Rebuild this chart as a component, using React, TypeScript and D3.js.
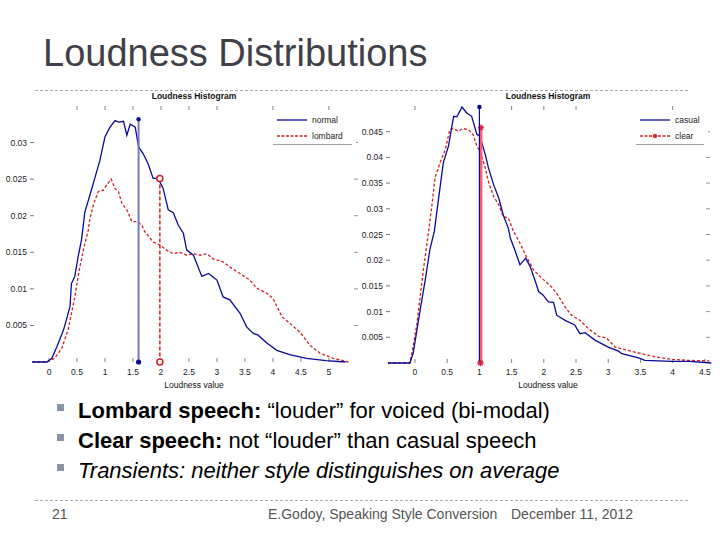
import React from "react";
import * as d3 from "d3";

// ---- Data ----
const normalX = [-0.3, -0.04, 0.05, 0.14, 0.26, 0.375, 0.4, 0.46, 0.52, 0.58, 0.64, 0.73, 0.85, 0.91, 1.0, 1.09, 1.18, 1.25, 1.33, 1.39, 1.45, 1.54, 1.6, 1.68, 1.77, 1.86, 1.95, 2.04, 2.13, 2.22, 2.31, 2.4, 2.46, 2.58, 2.73, 2.85, 3.0, 3.11, 3.23, 3.41, 3.53, 3.65, 3.73, 3.89, 4.07, 4.3, 4.6, 4.95, 5.3];
const normalY = [0, 0, 0.0005, 0.0021, 0.0044, 0.0076, 0.0107, 0.0117, 0.0144, 0.0167, 0.0205, 0.0228, 0.026, 0.0276, 0.0308, 0.0321, 0.033, 0.0328, 0.0329, 0.031, 0.0325, 0.0321, 0.0294, 0.0285, 0.0271, 0.0251, 0.0251, 0.0237, 0.0208, 0.0204, 0.0187, 0.0176, 0.0153, 0.0146, 0.0117, 0.0121, 0.0112, 0.0089, 0.0085, 0.0067, 0.0048, 0.0039, 0.0037, 0.0026, 0.0016, 0.001, 0.0005, 0.0002, 0];

const lombardX = [-0.3, -0.04, 0.1, 0.23, 0.34, 0.4, 0.46, 0.55, 0.64, 0.7, 0.73, 0.8, 0.88, 0.97, 1.03, 1.11, 1.18, 1.24, 1.3, 1.39, 1.48, 1.57, 1.66, 1.71, 1.74, 1.86, 1.98, 2.1, 2.22, 2.33, 2.46, 2.58, 2.7, 2.82, 2.93, 3.11, 3.23, 3.41, 3.59, 3.71, 3.89, 4.0, 4.16, 4.3, 4.48, 4.66, 4.84, 5.08, 5.35];
const lombardY = [0, 0, 0.0005, 0.0019, 0.0044, 0.0066, 0.0089, 0.013, 0.0162, 0.018, 0.0196, 0.0217, 0.0233, 0.0235, 0.0242, 0.025, 0.0237, 0.0233, 0.0217, 0.0208, 0.0192, 0.0192, 0.0187, 0.0178, 0.0176, 0.0164, 0.016, 0.0153, 0.0148, 0.015, 0.0146, 0.0148, 0.0146, 0.0148, 0.0141, 0.0137, 0.013, 0.0121, 0.0112, 0.0101, 0.0094, 0.0087, 0.0062, 0.0053, 0.0041, 0.0023, 0.0012, 0.0005, 0];

const casualX = [-0.42, -0.08, -0.03, 0.03, 0.08, 0.16, 0.23, 0.3, 0.36, 0.44, 0.52, 0.6, 0.65, 0.73, 0.8, 0.88, 0.96, 1.01, 1.09, 1.14, 1.22, 1.3, 1.37, 1.45, 1.48, 1.55, 1.63, 1.72, 1.79, 1.86, 1.92, 1.99, 2.07, 2.15, 2.2, 2.33, 2.48, 2.56, 2.64, 2.8, 3.0, 3.16, 3.21, 3.47, 3.57, 4.0, 4.26, 4.6];
const casualY = [0, 0, 0.0018, 0.0064, 0.0103, 0.0162, 0.022, 0.0256, 0.0314, 0.039, 0.0422, 0.048, 0.0479, 0.0498, 0.0487, 0.048, 0.0445, 0.0441, 0.0406, 0.038, 0.0347, 0.0321, 0.0288, 0.0262, 0.0243, 0.022, 0.0191, 0.0204, 0.0187, 0.0162, 0.0139, 0.0132, 0.0119, 0.0118, 0.0093, 0.0083, 0.0074, 0.0057, 0.0059, 0.0044, 0.0031, 0.0023, 0.0018, 0.001, 0.0005, 0.0003, 0.0003, 0];

const clearX = [-0.42, -0.08, -0.03, 0.03, 0.08, 0.13, 0.18, 0.23, 0.27, 0.31, 0.39, 0.47, 0.54, 0.6, 0.67, 0.75, 0.83, 0.9, 0.96, 1.01, 1.09, 1.14, 1.22, 1.3, 1.37, 1.45, 1.52, 1.63, 1.73, 1.84, 1.97, 2.12, 2.22, 2.33, 2.43, 2.56, 2.69, 2.85, 2.97, 3.11, 3.26, 3.52, 3.73, 4.0, 4.26, 4.57];
const clearY = [0, 0, 0.0031, 0.0077, 0.0129, 0.0181, 0.0227, 0.0275, 0.0314, 0.036, 0.039, 0.0415, 0.0454, 0.0456, 0.0451, 0.0456, 0.0454, 0.0445, 0.0422, 0.0412, 0.038, 0.0353, 0.0324, 0.0308, 0.0285, 0.0282, 0.0259, 0.0233, 0.0207, 0.0181, 0.0165, 0.0148, 0.0132, 0.0109, 0.0093, 0.0083, 0.0067, 0.0052, 0.0049, 0.0031, 0.0026, 0.0018, 0.0012, 0.0007, 0.0005, 0.0004];

// means (vertical markers): [x, top value]
const leftMeans = [
  { x: 1.6, top: 0.0332 },
  { x: 1.98, top: 0.0251 },
];
const rightMeans = [
  { x: 1.0, top: 0.0498 },
  { x: 1.0, top: 0.0458 },
];

const leftXTicks = [0, 0.5, 1, 1.5, 2, 2.5, 3, 3.5, 4, 4.5, 5];
const leftYTicks = [0.005, 0.01, 0.015, 0.02, 0.025, 0.03];
const rightXTicks = [0, 0.5, 1, 1.5, 2, 2.5, 3, 3.5, 4, 4.5];
const rightYTicks = [0.005, 0.01, 0.015, 0.02, 0.025, 0.03, 0.035, 0.04, 0.045];
const leftTopTicks = [0.5, 1, 1.5, 2, 2.5, 3, 4, 5];
const rightTopTicks = [0, 1, 1.5, 2, 2.5, 4];

const leftLegend = ["normal", "lombard"];
const rightLegend = ["casual", "clear"];

const slideTitle = "Loudness Distributions";
const plotTitle = "Loudness Histogram";
const xLabel = "Loudness value";

const BLUE = "#0a0a9a";
const RED = "#d42020";
const FONT = "'Liberation Sans', Arial, sans-serif";

function zip(xs: number[], ys: number[]): [number, number][] {
  return xs.map((x, i) => [x, ys[i]]);
}

function Star({ cx, cy, r, color }: { cx: number; cy: number; r: number; color: string }) {
  const lines = [0, 45, 90, 135].map((a) => {
    const rad = (a * Math.PI) / 180;
    return (
      <line key={a} x1={cx - r * Math.cos(rad)} y1={cy - r * Math.sin(rad)} x2={cx + r * Math.cos(rad)} y2={cy + r * Math.sin(rad)} stroke={color} strokeWidth={1.4} />
    );
  });
  return <g>{lines}</g>;
}

type PlotProps = {
  xDomain: [number, number];
  xRange: [number, number];
  yDomain: [number, number];
  yRange: [number, number];
  xTicks: number[];
  yTicks: number[];
  topTicks: number[];
  blue: [number, number][];
  red: [number, number][];
  legend: string[];
  legendX: number;
  variant: "left" | "right";
  means: { x: number; top: number }[];
};

function Plot(p: PlotProps) {
  const x = d3.scaleLinear().domain(p.xDomain).range(p.xRange);
  const y = d3.scaleLinear().domain(p.yDomain).range(p.yRange);
  const line = d3.line<[number, number]>().x((d) => x(d[0])).y((d) => y(d[1]));
  const fmt = (v: number) => d3.format("")(+v.toFixed(4));
  const [x0, x1] = p.xRange;
  const [yb, yt] = p.yRange;
  const cx = (x0 + x1) / 2;
  const tickLen = 4;
  const lx = p.legendX;
  return (
    <g fontFamily={FONT}>
      <text x={cx} y={99} textAnchor="middle" fontSize={8.5} fontWeight="bold" fill="#111">{plotTitle}</text>
      {/* ticks */}
      {p.yTicks.map((t) => (
        <g key={"y" + t}>
          <line x1={x0} x2={x0 + tickLen} y1={y(t)} y2={y(t)} stroke="#555" strokeWidth={0.8} />
          <line x1={x1} x2={x1 - tickLen} y1={y(t)} y2={y(t)} stroke="#777" strokeWidth={0.8} />
          <text x={x0 - 3} y={y(t) + 3} textAnchor="end" fontSize={8.5} fill="#222">{fmt(t)}</text>
        </g>
      ))}
      {p.xTicks.map((t) => (
        <g key={"x" + t}>
          <line x1={x(t)} x2={x(t)} y1={yb} y2={yb - tickLen} stroke="#666" strokeWidth={0.8} />
          <text x={x(t)} y={375} textAnchor="middle" fontSize={8.5} fill="#222">{fmt(t)}</text>
        </g>
      ))}
      {p.topTicks.map((t) => (
        <line key={"t" + t} x1={x(t)} x2={x(t)} y1={yt} y2={yt + tickLen} stroke="#666" strokeWidth={0.8} />
      ))}
      <text x={cx} y={388} textAnchor="middle" fontSize={8.5} fill="#111">{xLabel}</text>
      {/* curves */}
      <path d={line(p.red) || ""} fill="none" stroke={RED} strokeWidth={1.3} strokeDasharray="3,2" />
      <path d={line(p.blue) || ""} fill="none" stroke={BLUE} strokeWidth={1.3} />
      {/* mean markers */}
      {p.variant === "left" ? (
        <g>
          <line x1={x(p.means[0].x)} x2={x(p.means[0].x)} y1={y(p.means[0].top)} y2={yb} stroke="#7878c4" strokeWidth={2} />
          <circle cx={x(p.means[0].x)} cy={y(p.means[0].top)} r={2.2} fill={BLUE} />
          <circle cx={x(p.means[0].x)} cy={yb} r={2.6} fill={BLUE} />
          <line x1={x(p.means[1].x)} x2={x(p.means[1].x)} y1={y(p.means[1].top)} y2={yb} stroke={RED} strokeWidth={1.5} strokeDasharray="4,2" />
          <circle cx={x(p.means[1].x)} cy={y(p.means[1].top)} r={3} fill="white" stroke={RED} strokeWidth={1.5} />
          <circle cx={x(p.means[1].x)} cy={yb} r={3} fill="white" stroke={RED} strokeWidth={1.5} />
        </g>
      ) : (
        <g>
          <line x1={x(p.means[1].x) + 1.5} x2={x(p.means[1].x) + 1.5} y1={y(p.means[1].top)} y2={yb} stroke="#ff5a6a" strokeWidth={3} />
          <Star cx={x(p.means[1].x) + 1.5} cy={y(p.means[1].top)} r={3} color="#e8203a" />
          <line x1={x(p.means[0].x)} x2={x(p.means[0].x)} y1={y(p.means[0].top)} y2={yb} stroke={BLUE} strokeWidth={1.2} />
          <circle cx={x(p.means[0].x)} cy={y(p.means[0].top)} r={2.2} fill={BLUE} />
          <Star cx={x(p.means[0].x) + 1} cy={yb} r={3.2} color="#d0203a" />
        </g>
      )}
      {/* legend */}
      <rect x={lx - 4} y={111} width={x1 - lx + 2} height={33} fill="white" />
      <line x1={lx} x2={lx + 30} y1={120} y2={120} stroke={BLUE} strokeWidth={1.3} />
      <line x1={lx} x2={lx + 30} y1={136} y2={136} stroke={RED} strokeWidth={1.5} strokeDasharray="3,1.5" />
      {p.variant === "right" && <Star cx={lx + 15} cy={136} r={2.2} color={RED} />}
      <text x={lx + 35} y={123} fontSize={8.5} fill="#222">{p.legend[0]}</text>
      <text x={lx + 35} y={139} fontSize={8.5} fill="#222">{p.legend[1]}</text>
      <line x1={lx - 4} x2={x1 - 6} y1={144.5} y2={144.5} stroke="#888" strokeWidth={0.8} />
    </g>
  );
}

const bullets = [
  { b: "Lombard speech:", r: " “louder” for voiced (bi-modal)", i: false },
  { b: "Clear speech:", r: " not “louder” than casual speech", i: false },
  { b: "", r: "Transients: neither style distinguishes on average", i: true },
];

export default function App() {
  return (
    <svg width={720} height={540} style={{ position: "absolute", left: 0, top: 0, background: "white" }} fontFamily={FONT}>
      <rect width={720} height={540} fill="white" />
      <text x={43} y={66} fontSize={38} fill="#404048">{slideTitle}</text>
      <line x1={35} x2={688} y1={90.5} y2={90.5} stroke="#aaa" strokeWidth={1} strokeDasharray="3,2" />
      <Plot
        xDomain={[-0.34, 5.52]} xRange={[30, 358]} yDomain={[0, 0.035]} yRange={[362, 106]}
        xTicks={leftXTicks} yTicks={leftYTicks} topTicks={leftTopTicks}
        blue={zip(normalX, normalY)} red={zip(lombardX, lombardY)}
        legend={leftLegend} legendX={277} variant="left" means={leftMeans}
      />
      <Plot
        xDomain={[-0.45, 4.58]} xRange={[386, 710]} yDomain={[0, 0.05]} yRange={[363, 106]}
        xTicks={rightXTicks} yTicks={rightYTicks} topTicks={rightTopTicks}
        blue={zip(casualX, casualY)} red={zip(clearX, clearY)}
        legend={rightLegend} legendX={640} variant="right" means={rightMeans}
      />
      {bullets.map((bl, i) => (
        <g key={i}>
          <rect x={57} y={404 + i * 30} width={7} height={7} fill="#8a93a8" />
          <text x={78} y={418 + i * 30} fontSize={22} fill="#000" fontStyle={bl.i ? "italic" : "normal"}>
            {bl.b && <tspan fontWeight="bold">{bl.b}</tspan>}
            <tspan>{bl.r}</tspan>
          </text>
        </g>
      ))}
      <line x1={35} x2={690} y1={500.5} y2={500.5} stroke="#aaa" strokeWidth={1} strokeDasharray="3,2" />
      <text x={52} y={519} fontSize={14} fill="#555">21</text>
      <text x={268} y={519} fontSize={14} fill="#555">E.Godoy, Speaking Style Conversion</text>
      <text x={511} y={519} fontSize={14} fill="#555">December 11, 2012</text>
    </svg>
  );
}
